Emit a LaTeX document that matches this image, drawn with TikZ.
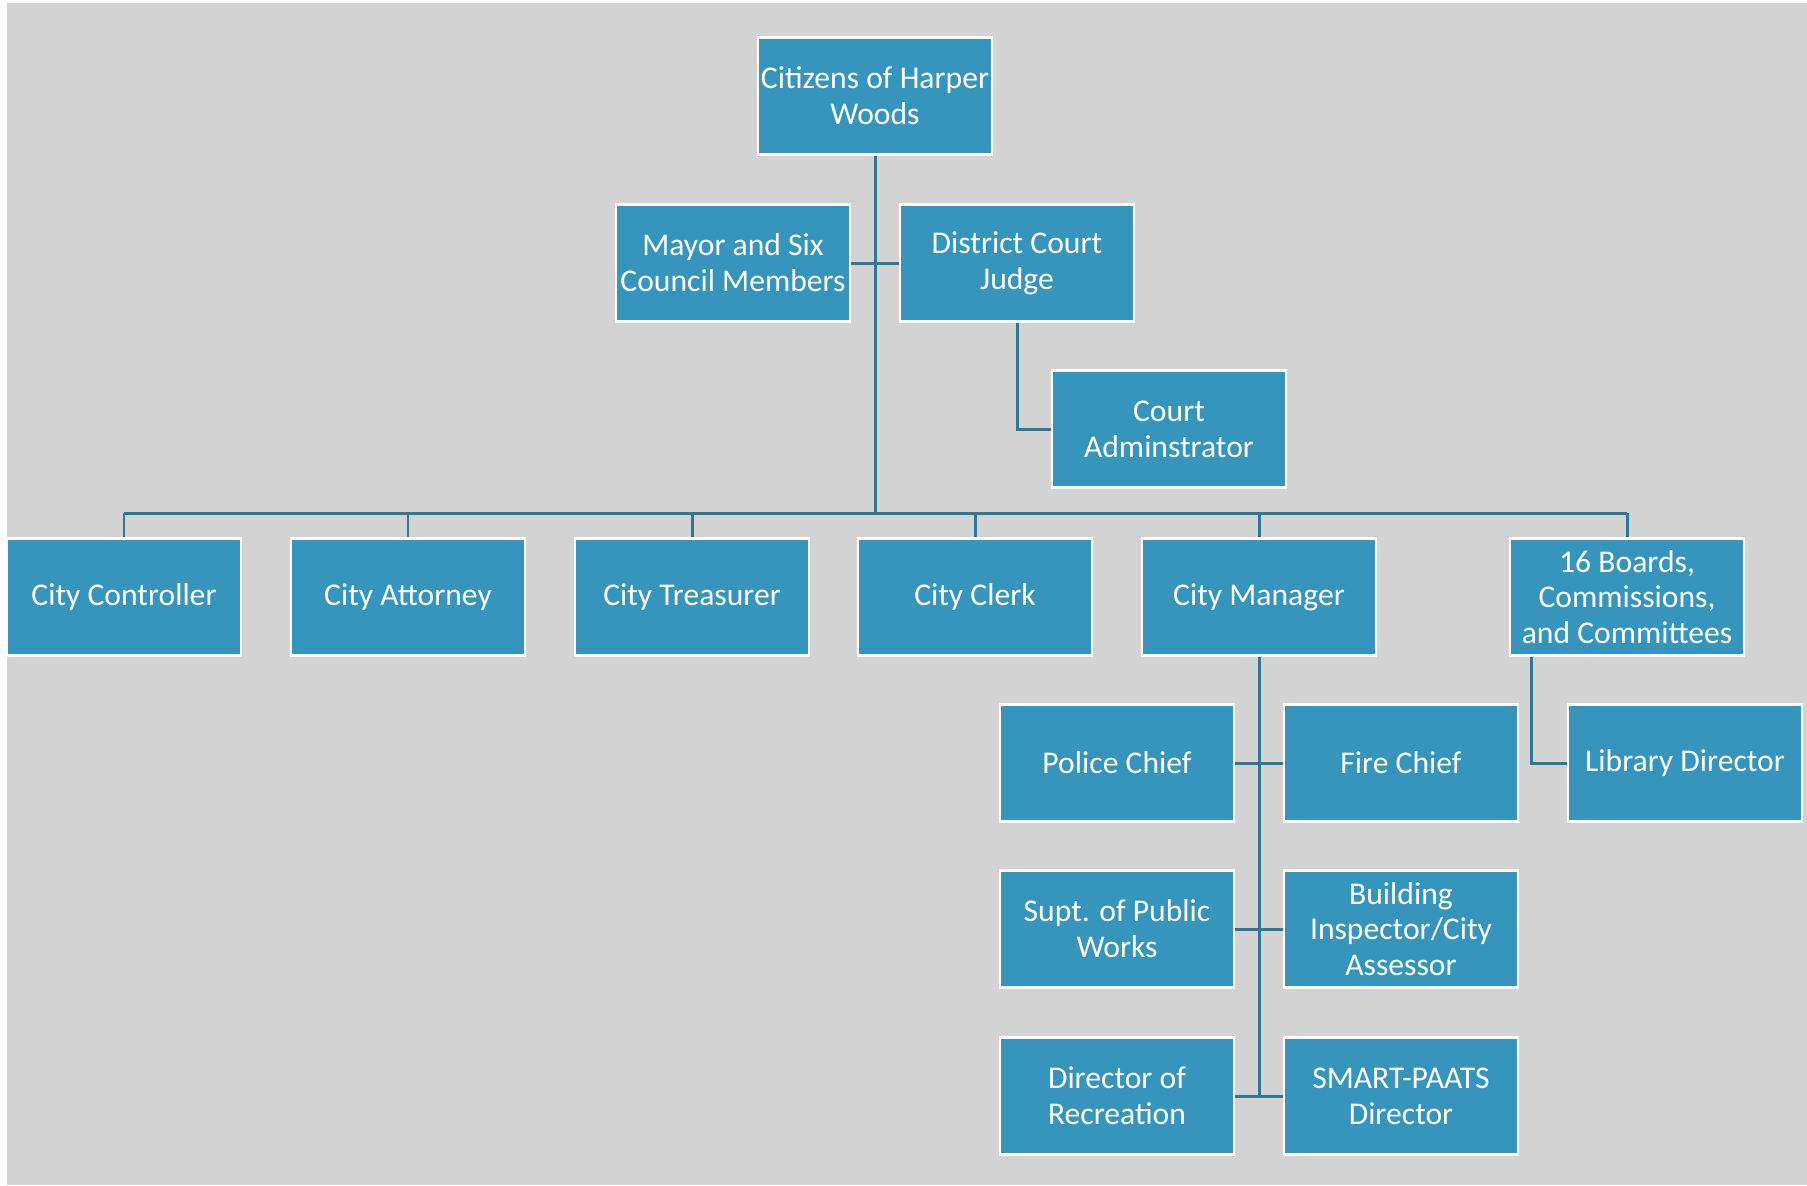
\documentclass[tikz,border=0pt]{standalone}
\usepackage{fontspec}
\setmainfont{Carlito}
\usepackage{tikz}
\usetikzlibrary{calc}
\definecolor{boxblue}{HTML}{3595BC}
\definecolor{linkblue}{HTML}{2C7898}
\definecolor{backgrey}{HTML}{D3D3D3}
\tikzset{
	unit/.style={draw=white, line width=0.8pt, fill=boxblue, text=white,
		minimum width=2.34cm, minimum height=1.17cm, inner sep=0pt,
		align=center, font=\fontsize{9}{10.2}\selectfont},
	link/.style={draw=linkblue, line width=0.85pt}
}

\begin{document}
\begin{tikzpicture}
		%%%%% START %%%%%
		
		\useasboundingbox (0, 0) rectangle (18.07, -11.85);
		\fill[backgrey] (0.07, -0.03) rectangle (18.07, -11.85);
		
		% top
		\node[unit] (citizens) at (8.75, -0.96) {Citizens of Harper\\Woods};
		\node[unit] (mayor) at (7.33, -2.63) {Mayor and Six\\Council Members};
		\node[unit] (judge) at (10.17, -2.63) {District Court\\Judge};
		\node[unit] (court) at (11.69, -4.29) {Court\\Adminstrator};
		
		% departments
		\coordinate (bus) at (8.75, -5.13);
		\node[unit] (controller) at (1.24, -5.97) {City Controller};
		\node[unit] (attorney) at (4.08, -5.97) {City Attorney};
		\node[unit] (treasurer) at (6.92, -5.97) {City Treasurer};
		\node[unit] (clerk) at (9.75, -5.97) {City Clerk};
		\node[unit] (manager) at (12.59, -5.97) {City Manager};
		\node[unit] (boards) at (16.27, -5.97) {16 Boards,\\Commissions,\\and Committees};
		
		% under the manager
		\node[unit] (police) at (11.17, -7.63) {Police Chief};
		\node[unit] (fire) at (14.01, -7.63) {Fire Chief};
		\node[unit] (library) at (16.85, -7.63) {Library Director};
		\node[unit] (works) at (11.17, -9.29) {Supt. of Public\\Works};
		\node[unit] (building) at (14.01, -9.29) {Building\\Inspector/City\\Assessor};
		\node[unit] (recreation) at (11.17, -10.96) {Director of\\Recreation};
		\node[unit] (smart) at (14.01, -10.96) {SMART-PAATS\\Director};
		
		% links
		\draw[link] (citizens.south) -- (bus);
		\draw[link] (mayor.east) -- (judge.west);
		\draw[link] (judge.south) |- (court.west);
		\draw[link] (controller.north |- bus) -- (boards.north |- bus);
		\foreach \d in {controller, attorney, treasurer, clerk, manager, boards}
			\draw[link] (\d.north) -- (\d.north |- bus);
		
		\draw[link] (manager.south) -- (manager.south |- recreation.east);
		\draw[link] (police.east) -- (fire.west);
		\draw[link] (works.east) -- (building.west);
		\draw[link] (recreation.east) -- (smart.west);
		\draw[link] ($(boards.south west)+(0.23, 0)$) |- (library.west);
		
		%%%%% END %%%%%
	\end{tikzpicture}
\end{document}
